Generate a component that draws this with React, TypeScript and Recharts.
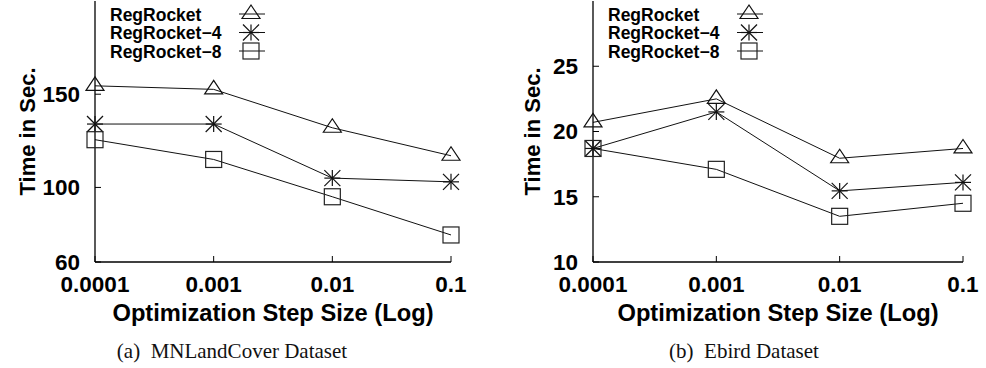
import React from 'react';
import { LineChart, Line, XAxis, YAxis, Legend } from 'recharts';

const steps = ['0.0001', '0.001', '0.01', '0.1'];
const seriesNames = ['RegRocket', 'RegRocket-4', 'RegRocket-8'];

// MNLandCover
const mnRegRocket = [154.5, 152.6, 132, 117];
const mnRegRocket4 = [134, 134, 105, 103];
const mnRegRocket8 = [125.6, 115, 95, 74.5];
const mnTicks = [60, 100, 150];

// Ebird
const ebRegRocket = [20.7, 22.5, 17.95, 18.7];
const ebRegRocket4 = [18.7, 21.5, 15.45, 16.1];
const ebRegRocket8 = [18.7, 17.1, 13.5, 14.5];
const ebTicks = [10, 15, 20, 25];

const SANS = '"Liberation Sans", Arial, Helvetica, sans-serif';
const SERIF = '"Liberation Serif", "Times New Roman", serif';

const toRows = (a: number[], b: number[], c: number[]) =>
  steps.map((s, i) => ({ step: s, r: a[i], r4: b[i], r8: c[i] }));

const Triangle = ({ cx, cy }: { cx: number; cy: number }) => (
  <polygon
    points={`${cx},${cy - 9} ${cx - 9},${cy + 4.5} ${cx + 9},${cy + 4.5}`}
    fill="none"
    stroke="#111"
    strokeWidth={1.2}
  />
);

const Star = ({ cx, cy }: { cx: number; cy: number }) => (
  <g stroke="#111" strokeWidth={1.2}>
    <line x1={cx - 8} y1={cy} x2={cx + 8} y2={cy} />
    <line x1={cx} y1={cy - 8} x2={cx} y2={cy + 8} />
    <line x1={cx - 8} y1={cy - 8} x2={cx + 8} y2={cy + 8} />
    <line x1={cx - 8} y1={cy + 8} x2={cx + 8} y2={cy - 8} />
  </g>
);

const Square = ({ cx, cy }: { cx: number; cy: number }) => (
  <rect x={cx - 8} y={cy - 8} width={16} height={16} fill="none" stroke="#222" strokeWidth={1.2} />
);

const markers = [Triangle, Star, Square];

const dotFn = (M: typeof Triangle) => (p: any) =>
  p.cx == null ? <g key={p.index} /> : <M key={p.index} cx={p.cx} cy={p.cy} />;

const LegendBox = () => (
  <svg width={170} height={62}>
    {seriesNames.map((n, i) => {
      const cy = 14 + i * 18.5;
      const M = markers[i];
      return (
        <g key={n}>
          <text x={0} y={cy + 6.5} fontFamily={SANS} fontWeight="bold" fontSize={17.5} fill="#000">
            {n.replace('-', '\u2212')}
          </text>
          <line x1={129} y1={cy} x2={155} y2={cy} stroke="#111" strokeWidth={1} />
          <M cx={141} cy={cy} />
        </g>
      );
    })}
  </svg>
);

const YTitle = (props: any) => {
  const { viewBox, bx } = props;
  const cy = viewBox.y + viewBox.height / 2;
  return (
    <text
      x={bx}
      y={cy}
      transform={`rotate(-90, ${bx}, ${cy})`}
      textAnchor="middle"
      fontFamily={SANS}
      fontWeight="bold"
      fontSize={22}
      fill="#000"
    >
      Time in Sec.
    </text>
  );
};

const tickStyle = { fontSize: 22.5, fontWeight: 'bold', fill: '#000', fontFamily: SANS };

interface PanelProps {
  left: number;
  width: number;
  yAxisWidth: number;
  marginRight: number;
  titleX: number;
  domain: number[];
  ticks: number[];
  rows: any[];
  caption: string;
  captionX: number;
}

const Panel: React.FC<PanelProps> = ({ left, width, yAxisWidth, marginRight, titleX, domain, ticks, rows, caption, captionX }) => (
  <div style={{ position: 'absolute', left, top: 0, width, height: 368 }}>
    <LineChart width={width} height={332} data={rows} margin={{ top: 1, right: marginRight, left: 0, bottom: 0 }}>
      <XAxis
        dataKey="step"
        xAxisId="b"
        interval={0}
        height={70}
        tickSize={-6}
        tickMargin={20}
        tick={tickStyle}
        axisLine={{ stroke: '#000', strokeWidth: 1.3 }}
        tickLine={{ stroke: '#000' }}
        label={{ value: 'Optimization Step Size (Log)', position: 'insideBottom', offset: 11, style: { fontSize: 23.7, fontWeight: 'bold', fill: '#000', fontFamily: SANS } }}
      />
      <XAxis dataKey="step" xAxisId="t" orientation="top" height={0} tick={false} tickSize={-6} interval={0}
        axisLine={{ stroke: '#000', strokeWidth: 1.3 }} tickLine={{ stroke: '#000' }} />
      <YAxis
        yAxisId="l"
        type="number"
        domain={domain}
        ticks={ticks}
        allowDataOverflow
        width={yAxisWidth}
        tickSize={-6}
        tickMargin={21}
        tick={tickStyle}
        axisLine={{ stroke: '#000', strokeWidth: 1.3 }}
        tickLine={{ stroke: '#000' }}
        label={<YTitle bx={titleX} />}
      />
      <YAxis yAxisId="r" orientation="right" type="number" domain={domain} ticks={ticks} allowDataOverflow width={0}
        tick={false} tickSize={-6} axisLine={{ stroke: '#000', strokeWidth: 1.3 }} tickLine={{ stroke: '#000' }} />
      <Legend
        layout="horizontal"
        verticalAlign="middle"
        align="center"
        wrapperStyle={{ position: 'absolute', left: yAxisWidth + 15, top: 0, width: 170, height: 62 }}
        content={() => <LegendBox />}
      />
      {['r', 'r4', 'r8'].map((k, i) => (
        <Line
          key={k}
          xAxisId="b"
          yAxisId="l"
          dataKey={k}
          name={seriesNames[i]}
          stroke="#111"
          strokeWidth={1}
          dot={dotFn(markers[i])}
          activeDot={false}
          isAnimationActive={false}
        />
      ))}
    </LineChart>
    <div
      style={{
        position: 'absolute',
        left: captionX - 150,
        width: 300,
        top: 339,
        textAlign: 'center',
        fontFamily: SERIF,
        fontSize: 21,
        color: '#111',
        whiteSpace: 'pre',
      }}
    >
      {caption}
    </div>
  </div>
);

export default function App() {
  return (
    <div style={{ position: 'absolute', left: 0, top: 0, width: 986, height: 368, background: '#fff' }}>
      <Panel
        left={0}
        width={480}
        yAxisWidth={95}
        marginRight={29}
        titleX={35}
        domain={[60, 200]}
        ticks={mnTicks}
        rows={toRows(mnRegRocket, mnRegRocket4, mnRegRocket8)}
        caption="(a)  MNLandCover Dataset"
        captionX={232}
      />
      <Panel
        left={490}
        width={496}
        yAxisWidth={103}
        marginRight={23}
        titleX={50}
        domain={[10, 30]}
        ticks={ebTicks}
        rows={toRows(ebRegRocket, ebRegRocket4, ebRegRocket8)}
        caption="(b)  Ebird Dataset"
        captionX={254}
      />
    </div>
  );
}
